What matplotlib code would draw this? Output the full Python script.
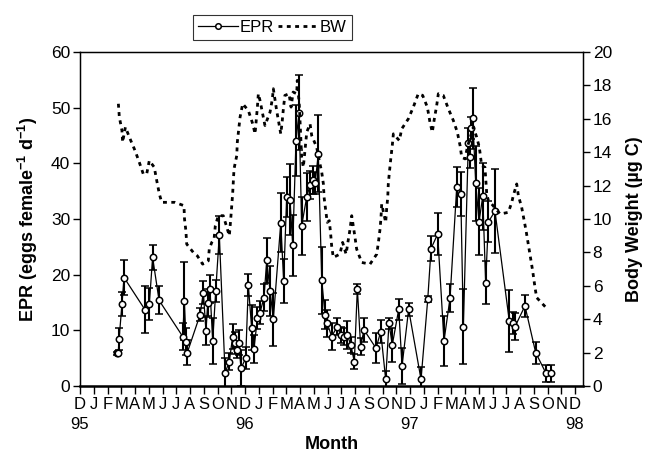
import matplotlib
matplotlib.use("Agg")
import matplotlib.pyplot as plt
from matplotlib.lines import Line2D

plt.rcParams["font.family"] = ["Liberation Sans", "DejaVu Sans"]
plt.rcParams["mathtext.fontset"] = "custom"
plt.rcParams["mathtext.rm"] = "Liberation Sans"
plt.rcParams["mathtext.bf"] = "Liberation Sans:bold"

# ======================================================
# DATA  (x = months since Dec 1994)
# ======================================================

epr_month = [
    2.71, 2.78, 2.84, 3.05, 3.20, 4.73, 5.04, 5.28, 5.75, 7.47,
    7.59, 7.71, 7.80, 8.73, 8.97, 9.16, 9.29, 9.45, 9.65, 9.87,
    10.13, 10.55, 10.86, 11.10, 11.25, 11.40, 11.54, 11.71, 12.05, 12.24,
    12.48, 12.65, 12.90, 13.09, 13.38, 13.58, 13.82, 14.06, 14.60, 14.81,
    15.03, 15.27, 15.47, 15.71, 15.93, 16.12, 16.49, 16.73, 16.92, 17.10,
    17.33, 17.58, 17.82, 17.98, 18.30, 18.71, 18.96, 19.20, 19.44, 19.69,
    19.95, 20.17, 20.41, 20.65, 21.53, 21.87, 22.23, 22.47, 22.71, 23.18,
    23.42, 23.90, 24.80, 25.29, 25.53, 26.01, 26.47, 26.91, 27.40, 27.69,
    27.88, 28.24, 28.36, 28.44, 28.56, 28.78, 29.02, 29.29, 29.50, 29.70,
    30.18, 31.22, 31.51, 31.64, 32.36, 33.14, 33.89, 34.23,
]

epr_value = [
    5.9, 6.0, 8.4, 14.7, 19.5, 13.7, 14.7, 23.1, 15.4, 8.9,
    15.3, 8.0, 6.0, 12.8, 16.8, 9.9, 15.0, 17.4, 8.1, 17.1,
    27.1, 2.4, 4.4, 8.9, 7.7, 6.5, 7.8, 3.2, 5.0, 18.1,
    10.5, 6.6, 12.2, 13.2, 15.9, 22.6, 17.1, 12.0, 29.3, 18.9,
    33.9, 33.5, 25.3, 44.1, 49.1, 28.8, 34.0, 36.1, 37.0, 36.5,
    41.7, 19.0, 12.8, 11.3, 8.9, 10.7, 9.2, 8.9, 9.2, 7.4,
    4.4, 17.5, 7.1, 10.1, 6.8, 9.8, 1.2, 11.3, 7.4, 13.8,
    3.6, 13.8, 1.2, 15.6, 24.7, 27.3, 8.1, 15.8, 35.8, 34.5,
    10.7, 43.6, 41.2, 46.3, 48.1, 36.4, 29.5, 34.1, 18.6, 29.5,
    31.4, 11.7, 11.3, 10.7, 14.4, 6.0, 2.3, 2.3,
]

epr_sd = [
    0.3, 0.3, 2.0, 2.2, 3.2, 4.2, 2.9, 2.3, 2.5, 2.5,
    7.0, 2.5, 2.2, 1.2, 2.0, 2.5, 2.5, 2.5, 4.2, 2.0,
    3.4, 2.7, 1.5, 2.2, 2.0, 1.5, 2.2, 3.2, 2.0, 2.0,
    4.0, 2.5, 2.0, 2.0, 2.5, 4.0, 4.5, 4.8, 5.3, 4.0,
    3.6, 6.3, 5.5, 6.3, 6.7, 5.2, 4.3, 2.5, 2.5, 2.0,
    6.9, 6.0, 2.6, 2.4, 2.4, 1.6, 1.5, 1.5, 2.5, 1.5,
    1.4, 0.9, 1.5, 2.2, 2.7, 2.0, 1.5, 1.0, 3.0, 1.9,
    3.3, 1.2, 2.2, 0.5, 2.2, 3.7, 4.5, 2.5, 3.6, 4.0,
    6.7, 2.8, 2.0, 2.0, 5.5, 6.7, 6.0, 6.0, 3.9, 3.7,
    7.5, 5.6, 2.0, 2.4, 2.0, 2.0, 1.5, 1.5,
]

bw_month = [
    2.79, 2.86, 3.05, 3.10, 3.30, 3.64, 4.00, 4.31, 4.60, 4.85,
    5.04, 5.40, 5.58, 5.77, 5.94, 6.90, 7.56, 7.60, 7.70, 7.76,
    8.24, 8.53, 8.92, 9.33, 9.40, 9.58, 9.75, 9.84, 10.06, 10.42,
    10.86, 10.96, 11.10, 11.20, 11.40, 11.44, 11.64, 11.83, 12.24, 12.56,
    12.73, 12.90, 12.97, 13.09, 13.28, 13.45, 13.82, 13.99, 14.06, 14.30,
    14.60, 14.70, 14.79, 14.90, 15.20, 15.35, 15.50, 15.76, 15.80, 15.95,
    16.05, 16.12, 16.24, 16.49, 16.73, 16.85, 17.21, 17.40, 17.58, 17.70,
    17.75, 17.87, 17.98, 18.13, 18.23, 18.30, 18.42, 18.90, 19.10, 19.35,
    19.50, 19.64, 19.76, 20.00, 20.12, 20.49, 21.09, 21.58, 21.70, 21.82,
    21.89, 21.94, 22.23, 22.30, 22.38, 22.42, 22.50, 22.60, 22.71, 22.79,
    23.22, 23.40, 23.88, 24.24, 24.60, 24.92, 25.26, 25.45, 25.62, 25.75,
    25.94, 26.06, 26.42, 26.79, 27.15, 27.44, 27.64, 27.76, 28.00, 28.17,
    28.49, 28.60, 28.85, 29.04, 29.21, 29.45, 29.58, 29.70, 29.94, 30.55,
    31.15, 31.40, 31.51, 31.76, 31.88, 32.12, 32.44, 32.68, 32.92, 33.09,
    33.21, 33.89,
]

bw_value = [
    16.9, 16.1, 15.3, 14.6, 15.5, 14.8, 14.1, 13.4, 12.7, 12.7,
    13.5, 13.1, 12.3, 11.5, 11.0, 11.0, 10.8, 10.0, 9.3, 8.5,
    8.0, 7.8, 7.3, 7.5, 8.2, 8.6, 8.8, 9.6, 10.2, 10.2,
    9.0, 10.0, 11.5, 13.0, 13.8, 14.6, 16.1, 16.9, 16.5, 15.7,
    15.1, 16.7, 17.5, 17.1, 16.3, 15.6, 16.4, 17.2, 17.8, 16.5,
    15.1, 15.8, 16.6, 17.4, 17.5, 16.7, 17.6, 17.5, 18.3, 16.8,
    14.9, 13.7, 13.1, 15.2, 15.7, 15.0, 14.3, 13.5, 12.8, 12.1,
    11.3, 10.5, 9.8, 9.9, 9.1, 8.4, 7.7, 7.9, 8.6, 7.9,
    8.7, 9.4, 10.2, 8.9, 8.2, 7.4, 7.3, 7.9, 8.6, 9.4,
    10.1, 10.9, 9.8, 10.6, 11.3, 12.1, 12.8, 13.6, 14.4, 15.1,
    14.7, 15.4, 16.0, 16.7, 17.5, 17.4, 16.7, 15.8, 15.2, 15.9,
    16.8, 17.5, 17.4, 16.6, 15.9, 15.2, 14.4, 13.7, 13.6, 14.3,
    15.2, 15.5, 14.9, 14.3, 13.2, 13.1, 11.5, 11.1, 10.9, 10.3,
    10.4, 11.0, 11.4, 12.1, 11.4, 10.7, 9.3, 8.1, 6.9, 5.9,
    5.3, 4.7,
]

month_letters = list("DJFMAMJJASON") * 3 + ["D"]
year_pos = [0, 12, 24, 36]
year_labels = ["95", "96", "97", "98"]

# ======================================================
# PLOT
# ======================================================

fig = plt.figure(figsize=(6.64, 4.58), dpi=100)
ax = fig.add_axes([0.1205, 0.157, 0.7575, 0.7295])

ax.errorbar(
    epr_month, epr_value, yerr=epr_sd,
    color="black", lw=0.9,
    marker="o", markersize=4.6, markerfacecolor="white",
    markeredgecolor="black", markeredgewidth=1.1,
    ecolor="black", elinewidth=1.5, capsize=3, capthick=1.5,
    zorder=3,
)

ax.set_xlim(0, 36.58)
ax.set_ylim(0, 60)
ax.set_yticks(range(0, 61, 10))

ax.set_xticks(range(len(month_letters)))
ax.set_xticklabels(month_letters)

# year labels under the December ticks
for xp, yl in zip(year_pos, year_labels):
    ax.annotate(yl, xy=(xp, 0), xycoords=("data", "axes fraction"),
                xytext=(0, -22), textcoords="offset points",
                ha="center", va="top", fontsize=12)

ax.tick_params(axis="both", direction="out", length=5, width=1, labelsize=12.5, pad=2)
ax.tick_params(axis="x", length=6, labelsize=12)

for s in ax.spines.values():
    s.set_linewidth(1)
ax.spines["bottom"].set_linewidth(1.8)

ax.set_xlabel("Month", fontsize=13, fontweight="bold", labelpad=17)
ax.set_ylabel(
    r"EPR (eggs female$^{\mathbf{-1}}$ d$^{\mathbf{-1}}$)",
    fontsize=13, fontweight="bold", labelpad=8,
)

ax2 = ax.twinx()
ax2.plot(bw_month, bw_value, color="black", lw=2.0, dashes=(1.4, 1.6))
ax2.set_ylim(0, 20)
ax2.set_yticks(range(0, 21, 2))
ax2.tick_params(axis="y", direction="out", length=5, width=1, labelsize=12.5, pad=2)
ax2.set_ylabel("Body Weight (µg C)", fontsize=13, fontweight="bold", labelpad=10)

# legend
h_epr = Line2D([], [], color="black", lw=0.9, marker="o", markersize=4,
               markerfacecolor="white", markeredgecolor="black", markeredgewidth=1.1)
h_bw = Line2D([], [], color="black", lw=2.0, dashes=(1.4, 1.6))
leg = fig.legend(
    [h_epr, h_bw], ["EPR", "BW"],
    loc="center", bbox_to_anchor=(0.41, 0.941),
    ncol=2, frameon=True, fancybox=False, fontsize=12,
    handlelength=2.4, handletextpad=0.1, columnspacing=0.3,
    borderpad=0.3, borderaxespad=0,
)
leg.get_frame().set_edgecolor("black")
leg.get_frame().set_linewidth(0.8)

plt.savefig("out.png", dpi=100)
plt.close()
